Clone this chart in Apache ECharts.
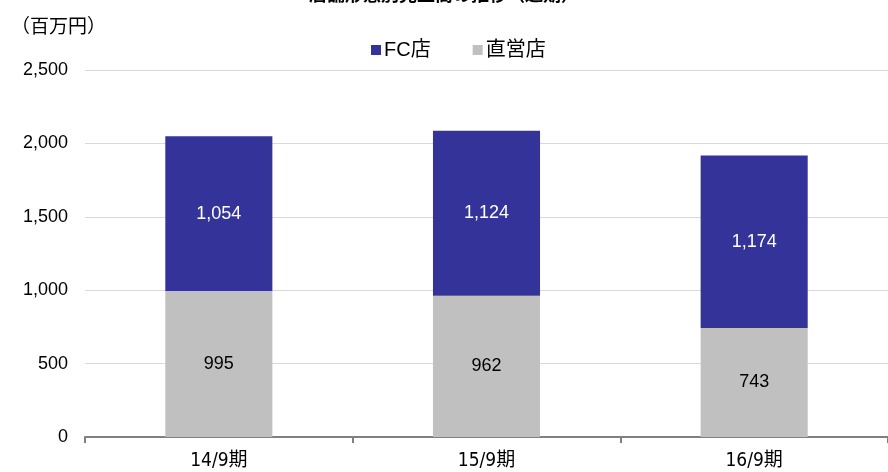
<!DOCTYPE html>
<html><head><meta charset="utf-8">
<script src="https://cdn.jsdelivr.net/npm/echarts@6/dist/echarts.min.js"></script>
<style>html,body{margin:0;padding:0;background:#fff}#c{width:888px;height:472px}</style>
</head><body><div id="c"></div>
<script>
const categories = ['14/9期', '15/9期', '16/9期'];
const fcValues = [1054, 1124, 1174];
const directValues = [995, 962, 743];
const seriesNames = ['FC店', '直営店'];
const yTicks = [0, 500, 1000, 1500, 2000, 2500];

const cjk = '"Noto Sans CJK JP"';
const font = '"Liberation Sans", ' + cjk + ', sans-serif';
const narrow = '"Liberation Sans Narrow", "DejaVu Sans Condensed", ' + cjk + ', sans-serif';
const chart = echarts.init(document.getElementById('c'), null, {renderer: 'canvas'});
chart.setOption({
  animation: false,
  textStyle: {fontFamily: font},
  title: [{
    text: '店舗形態別売上高の推移（通期）',
    left: 'center', top: -18,
    textStyle: {fontSize: 18, fontWeight: 'bold', color: '#000', fontFamily: font}
  }, {
    text: '（百万円）', left: 6, top: 13,
    textStyle: {fontSize: 19, fontWeight: 'normal', color: '#000', fontFamily: font}
  }],
  legend: {
    data: seriesNames, top: 35, left: 366,
    itemWidth: 10, itemHeight: 10, itemGap: 42,
    icon: 'rect',
    textStyle: {fontSize: 20, color: '#000', fontFamily: font, padding: [0, 0, 0, -2]}
  },
  grid: {left: 85, right: 0, top: 70, bottom: 35, containLabel: false},
  xAxis: {
    type: 'category', data: categories,
    axisLine: {lineStyle: {color: '#808080', width: 2}},
    axisTick: {show: true, length: 6, lineStyle: {color: '#808080', width: 2}},
    axisLabel: {fontSize: 19, color: '#000', margin: 15, fontFamily: narrow}
  },
  yAxis: {
    type: 'value', min: yTicks[0], max: yTicks[yTicks.length - 1], interval: 500,
    axisLine: {show: false}, axisTick: {show: false},
    splitLine: {lineStyle: {color: '#d9d9d9', width: 1}},
    axisLabel: {
      fontSize: 18, color: '#000', margin: 17, fontFamily: font,
      formatter: v => v.toLocaleString('en-US')
    }
  },
  series: [{
    name: seriesNames[1], type: 'bar', stack: 'a', data: directValues,
    barWidth: '40%',
    itemStyle: {color: '#c0c0c0'},
    label: {show: true, position: 'inside', color: '#000', fontSize: 18, fontFamily: font,
      formatter: p => p.value.toLocaleString('en-US')}
  }, {
    name: seriesNames[0], type: 'bar', stack: 'a', data: fcValues,
    barWidth: '40%',
    itemStyle: {color: '#333399'},
    label: {show: true, position: 'inside', color: '#fff', fontSize: 18, fontFamily: font,
      formatter: p => p.value.toLocaleString('en-US')}
  }]
});
</script></body></html>
